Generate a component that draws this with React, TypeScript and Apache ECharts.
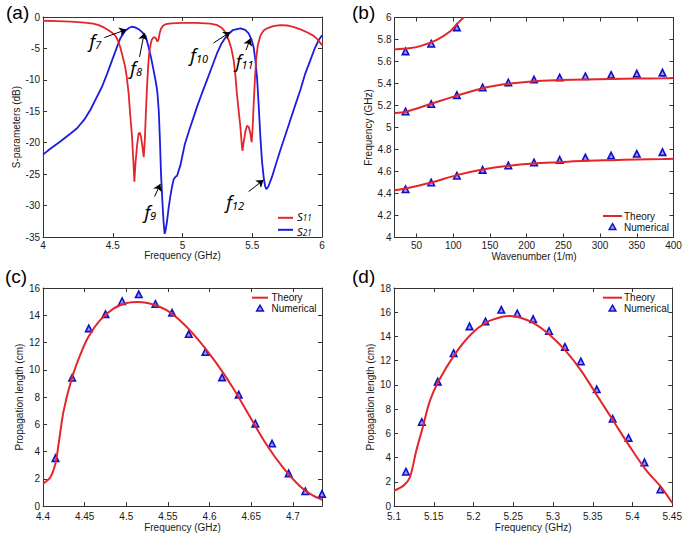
import React, { useEffect, useRef } from "react";
import * as echarts from "echarts";

const FONT = "'Liberation Sans', Arial, sans-serif";
const ITAL = "'Noto Sans', 'Open Sans', sans-serif";
const RED = "#e3262b";
const BLUE = "#1c1ce0";
const TRI_FILL = "#9a9aff";
const TRI_STROKE = "#1010c8";

// ---------- Panel (a): S-parameters ----------
const s11Freq = [4.0, 4.1, 4.2, 4.3, 4.36, 4.4, 4.44, 4.47, 4.5, 4.52, 4.54, 4.555, 4.57, 4.59, 4.6, 4.614, 4.625, 4.638, 4.648, 4.655, 4.662, 4.674, 4.685, 4.693, 4.702, 4.712, 4.722, 4.73, 4.738, 4.745, 4.752, 4.76, 4.77, 4.78, 4.79, 4.8, 4.81, 4.82, 4.828, 4.836, 4.845, 4.86, 4.88, 4.92, 5.0, 5.1, 5.2, 5.25, 5.28, 5.3, 5.33, 5.35, 5.367, 5.38, 5.39, 5.403, 5.415, 5.425, 5.43, 5.438, 5.45, 5.462, 5.475, 5.486, 5.496, 5.503, 5.51, 5.52, 5.529, 5.54, 5.558, 5.58, 5.606, 5.65, 5.7, 5.75, 5.8, 5.85, 5.9, 5.94, 5.97, 6.0];
const s11Db = [-0.6, -0.65, -0.75, -0.9, -1.05, -1.3, -1.7, -2.1, -2.6, -3.0, -3.9, -4.9, -6.2, -8.0, -9.5, -12.2, -15.5, -19.0, -23.0, -26.2, -23.5, -20.5, -18.6, -18.4, -19.0, -20.5, -22.3, -19.5, -15.0, -11.5, -8.5, -6.0, -4.5, -3.6, -3.3, -3.2, -3.4, -3.9, -3.6, -2.6, -1.9, -1.4, -1.15, -1.0, -0.95, -0.95, -1.05, -1.3, -1.7, -2.2, -3.6, -5.0, -6.9, -9.5, -12.2, -15.0, -17.5, -20.3, -21.3, -20.0, -18.3, -17.3, -17.5, -18.5, -19.9, -17.5, -14.0, -9.5, -6.5, -4.5, -3.0, -2.2, -1.8, -1.45, -1.3, -1.35, -1.6, -2.0, -2.5, -3.0, -3.6, -4.5];
const s21Freq = [4.0, 4.05, 4.124, 4.2, 4.244, 4.3, 4.339, 4.38, 4.423, 4.46, 4.495, 4.53, 4.554, 4.59, 4.615, 4.635, 4.66, 4.69, 4.71, 4.735, 4.757, 4.775, 4.793, 4.81, 4.82, 4.83, 4.838, 4.846, 4.855, 4.864, 4.872, 4.88, 4.889, 4.9, 4.913, 4.925, 4.937, 4.95, 4.961, 4.97, 4.985, 5.0, 5.016, 5.05, 5.104, 5.14, 5.176, 5.21, 5.247, 5.28, 5.319, 5.36, 5.415, 5.45, 5.474, 5.495, 5.51, 5.522, 5.534, 5.546, 5.558, 5.57, 5.582, 5.592, 5.601, 5.615, 5.642, 5.67, 5.701, 5.74, 5.773, 5.81, 5.845, 5.88, 5.916, 5.95, 5.976, 6.0];
const s21Db = [-21.9, -21.0, -19.8, -18.5, -17.7, -16.2, -14.8, -13.0, -11.1, -9.0, -6.9, -4.8, -3.4, -2.2, -1.75, -1.55, -1.65, -2.0, -2.4, -3.0, -4.8, -6.5, -8.5, -10.5, -12.0, -15.0, -19.5, -25.0, -29.0, -32.5, -34.5, -33.8, -32.5, -30.5, -28.5, -27.0, -25.8, -25.4, -25.3, -24.6, -23.6, -22.0, -20.3, -17.9, -14.3, -12.1, -10.0, -8.0, -5.8, -4.2, -2.9, -2.1, -1.8, -2.05, -2.6, -3.6, -4.8, -6.8, -9.5, -14.0, -19.0, -23.0, -25.5, -26.9, -27.4, -27.0, -25.4, -23.4, -21.2, -18.6, -16.4, -13.9, -11.6, -9.0, -6.9, -4.9, -3.7, -2.9];

// annotations for panel (a) (data coordinates)
const annSub = ["7", "8", "9", "10", "11", "12"];
const annText = [[4.375, -3.81], [4.667, -8.1], [4.769, -30.95], [5.12, -6.08], [5.445, -7.03], [5.378, -29.37]];
const annTail = [[4.44, -3.27], [4.692, -6.35], [4.8, -28.57], [5.223, -4.13], [5.455, -5.29], [5.474, -27.78]];
const annHead = [[4.597, -2.0], [4.726, -2.54], [4.841, -26.56], [5.343, -2.38], [5.486, -3.43], [5.581, -25.92]];

// ---------- Panel (b): dispersion ----------
const theoryK = [20, 35, 70, 105, 140, 175, 210, 245, 280, 315, 350, 385, 400];
const band1Theory = [4.43, 4.445, 4.5, 4.567, 4.618, 4.652, 4.673, 4.685, 4.697, 4.703, 4.709, 4.713, 4.715];
const band2Theory = [5.131, 5.143, 5.216, 5.29, 5.357, 5.397, 5.421, 5.431, 5.437, 5.441, 5.445, 5.448, 5.45];
const band3TheoryK = [20, 40, 55, 77, 95, 108, 114];
const band3Theory = [5.71, 5.72, 5.74, 5.795, 5.87, 5.96, 6.0];
const numK = [35, 70, 105, 140, 175, 210, 245, 280, 315, 350, 385];
const band1Num = [4.439, 4.5, 4.561, 4.615, 4.655, 4.682, 4.706, 4.727, 4.745, 4.761, 4.776];
const band2Num = [5.146, 5.213, 5.294, 5.364, 5.409, 5.436, 5.454, 5.466, 5.478, 5.49, 5.499];
const band3NumK = [35, 70, 105];
const band3Num = [5.692, 5.762, 5.91];

// ---------- Panel (c): propagation length, lower band ----------
const cTheoryFreq = [4.4, 4.4088, 4.4148, 4.4187, 4.4247, 4.4347, 4.4447, 4.4546, 4.4686, 4.4846, 4.5005, 4.5145, 4.5284, 4.5484, 4.5683, 4.5883, 4.6082, 4.6282, 4.6481, 4.6681, 4.688, 4.7079, 4.7239, 4.735];
const cTheoryLen = [1.63, 2.11, 3.08, 4.54, 6.97, 9.4, 11.1, 12.43, 13.64, 14.49, 14.9, 14.98, 14.86, 14.37, 13.4, 12.07, 10.49, 8.67, 6.6, 4.54, 2.84, 1.5, 0.78, 0.46];
const cNumFreq = [4.415, 4.435, 4.455, 4.475, 4.495, 4.515, 4.535, 4.555, 4.575, 4.595, 4.615, 4.635, 4.655, 4.675, 4.695, 4.715, 4.735];
const cNumLen = [3.52, 9.42, 13.04, 14.08, 15.03, 15.54, 14.83, 14.18, 12.62, 11.31, 9.44, 8.18, 6.05, 4.59, 2.4, 1.09, 0.9];

// ---------- Panel (d): propagation length, upper band ----------
const dTheoryFreq = [5.1, 5.112, 5.12, 5.128, 5.136, 5.145, 5.156, 5.176, 5.196, 5.216, 5.236, 5.245, 5.256, 5.276, 5.296, 5.316, 5.336, 5.356, 5.376, 5.396, 5.416, 5.436, 5.45];
const dTheoryLen = [1.28, 1.69, 2.38, 4.56, 6.47, 8.66, 10.3, 12.48, 14.12, 15.16, 15.62, 15.68, 15.6, 15.08, 14.12, 12.81, 11.12, 9.07, 7.02, 4.97, 3.06, 1.56, 0.25];
const dNumFreq = [5.115, 5.135, 5.155, 5.175, 5.195, 5.215, 5.235, 5.255, 5.275, 5.295, 5.315, 5.335, 5.355, 5.375, 5.395, 5.415, 5.435];
const dNumLen = [2.84, 6.94, 10.27, 12.62, 14.83, 15.24, 16.2, 15.9, 15.43, 14.45, 13.14, 11.94, 9.64, 7.21, 5.63, 3.61, 1.37];

// legend labels
const legendNames = ["Theory", "Numerical"];

const zip = (xs: number[], ys: number[]) => xs.map((x, i) => [x, ys[i]]);

const lineCol = "#333";
const baseAxis = (grid: number, min: number, max: number, extra: any) => ({
  type: "value",
  gridIndex: grid,
  min,
  max,
  splitLine: { show: false },
  axisLine: { show: true, onZero: false, lineStyle: { color: lineCol, width: 1 } },
  axisTick: { show: true, inside: true, length: 4, lineStyle: { color: lineCol, width: 1 } },
  ...extra,
});

const labelStyle = { color: "#1a1a1a", fontSize: 10, lineHeight: 10, fontFamily: FONT };
const nameStyle = { color: "#1a1a1a", fontSize: 10, fontFamily: FONT };

function xPair(grid: number, min: number, max: number, scale: any, name: string, nameGap: number, lbl: any = {}) {
  return [
    baseAxis(grid, min, max, {
      ...scale,
      position: "bottom",
      name,
      nameLocation: "middle",
      nameGap,
      nameTextStyle: nameStyle,
      axisLabel: { ...labelStyle, margin: 3, ...lbl },
    }),
    baseAxis(grid, min, max, { ...scale, position: "top", axisLabel: { show: false } }),
  ];
}
function yPair(grid: number, min: number, max: number, scale: any, name: string, nameGap: number) {
  return [
    baseAxis(grid, min, max, {
      ...scale,
      position: "left",
      name,
      nameLocation: "middle",
      nameGap,
      nameRotate: 90,
      nameTextStyle: nameStyle,
      axisLabel: { ...labelStyle, margin: 3 },
    }),
    baseAxis(grid, min, max, { ...scale, position: "right", axisLabel: { show: false } }),
  ];
}

const theoryLine = (g: number, data: number[][]) => ({
  type: "line",
  name: "Theory",
  xAxisIndex: 2 * g,
  yAxisIndex: 2 * g,
  data,
  symbol: "none",
  smooth: 0.3,
  lineStyle: { color: RED, width: 2 },
  itemStyle: { color: RED },
  clip: true,
});
const numScatter = (g: number, data: number[][]) => ({
  type: "scatter",
  name: "Numerical",
  xAxisIndex: 2 * g,
  yAxisIndex: 2 * g,
  data,
  symbol: "triangle",
  symbolSize: 6.5,
  symbolKeepAspect: true,
  itemStyle: { color: TRI_FILL, borderColor: TRI_STROKE, borderWidth: 1.6, opacity: 1 },
});

// legend drawn as graphic elements: line sample at (x0..x1, y1), triangle at (xt, y2), text at xText
function tnLegendGraphic(x0: number, x1: number, y1: number, y2: number, xText: number) {
  const xt = (x0 + x1) / 2;
  return [
    { type: "line", shape: { x1: x0, y1, x2: x1, y2: y1 }, style: { stroke: RED, lineWidth: 2 } },
    {
      type: "polygon",
      shape: { points: [[xt, y2 - 3.3], [xt + 3.3, y2 + 2.4], [xt - 3.3, y2 + 2.4]] },
      style: { fill: TRI_FILL, stroke: TRI_STROKE, lineWidth: 1.5 },
    },
    { type: "text", x: xText, y: y1, style: { text: legendNames[0], font: `10px ${FONT}`, fill: "#111", verticalAlign: "middle" } },
    { type: "text", x: xText, y: y2, style: { text: legendNames[1], font: `10px ${FONT}`, fill: "#111", verticalAlign: "middle" } },
  ];
}

export default function App() {
  const ref = useRef<HTMLDivElement>(null);
  useEffect(() => {
    document.body.style.margin = "0";
    if (!ref.current) return;
    const chart = echarts.init(ref.current, undefined, { renderer: "svg" });

    const fRich = {
      f: { fontSize: 18, fontStyle: "italic", fontFamily: ITAL, color: "#000", lineHeight: 18 },
      n: { fontSize: 11, fontStyle: "italic", fontFamily: ITAL, color: "#000", lineHeight: 10, verticalAlign: "bottom" },
    };
    const sRich = {
      i: { fontSize: 11.5, fontStyle: "italic", fontFamily: ITAL, fill: "#111", lineHeight: 10 },
      s: { fontSize: 8, fontStyle: "italic", fontFamily: ITAL, fill: "#111", lineHeight: 5, verticalAlign: "bottom" },
    };

    const option: any = {
      animation: false,
      backgroundColor: "#fff",
      textStyle: { fontFamily: FONT },
      grid: [
        { left: 43, top: 17, width: 279, height: 220 },
        { left: 394.5, top: 17.5, width: 279, height: 220 },
        { left: 43, top: 288, width: 279, height: 219 },
        { left: 394, top: 288, width: 279, height: 219 },
      ],
      xAxis: [
        ...xPair(0, 4, 6, { interval: 0.5 }, "Frequency (GHz)", 13),
        ...xPair(1, 20, 400, { splitNumber: 8 }, "Wavenumber (1/m)", 13, { showMinLabel: false }),
        ...xPair(2, 4.4, 4.735, { interval: 0.05 }, "Frequency (GHz)", 12, { showMaxLabel: false, margin: 5 }),
        ...xPair(3, 5.1, 5.45, { interval: 0.05 }, "Frequency (GHz)", 12, { margin: 5 }),
      ],
      yAxis: [
        ...yPair(0, -35, 0, { interval: 5 }, "S-parameters (dB)", 21),
        ...yPair(1, 4, 6, { interval: 0.2 }, "Frequency (GHz)", 17.5),
        ...yPair(2, 0, 16, { interval: 2 }, "Propagation length (cm)", 15),
        ...yPair(3, 0, 18, { interval: 2 }, "Propagation length (cm)", 16.5),
      ],
      graphic: [
        { type: "text", left: 6, top: 3, style: { text: "(a)", font: `19px ${FONT}`, fill: "#000" } },
        { type: "text", left: 352, top: 3, style: { text: "(b)", font: `19px ${FONT}`, fill: "#000" } },
        { type: "text", left: 5, top: 267, style: { text: "(c)", font: `19px ${FONT}`, fill: "#000" } },
        { type: "text", left: 352, top: 267, style: { text: "(d)", font: `19px ${FONT}`, fill: "#000" } },
        // legend (a)
        { type: "line", shape: { x1: 278, y1: 217.8, x2: 293, y2: 217.8 }, style: { stroke: RED, lineWidth: 2 } },
        { type: "line", shape: { x1: 278, y1: 229.8, x2: 293, y2: 229.8 }, style: { stroke: BLUE, lineWidth: 2 } },
        { type: "text", x: 297, y: 216, style: { text: "{i|S}{s|11}", rich: sRich, verticalAlign: "middle" } },
        { type: "text", x: 297, y: 231, style: { text: "{i|S}{s|21}", rich: sRich, verticalAlign: "middle" } },
        // legends (b), (c), (d)
        ...tnLegendGraphic(603, 622, 216, 227, 624),
        ...tnLegendGraphic(252, 268, 297.7, 308.5, 271.5),
        ...tnLegendGraphic(603, 622, 297.7, 308.5, 624),
      ],
      series: [
        {
          type: "line",
          name: "S11",
          xAxisIndex: 0,
          yAxisIndex: 0,
          data: zip(s11Freq, s11Db),
          symbol: "none",
          lineStyle: { color: RED, width: 1.8 },
          itemStyle: { color: RED },
          z: 3,
          markLine: {
            silent: true,
            symbol: ["none", "arrow"],
            symbolSize: 7,
            lineStyle: { color: "#000", width: 1, type: "solid" },
            label: { show: false },
            emphasis: { disabled: true },
            data: annTail.map((t, i) => [{ coord: t }, { coord: annHead[i] }]),
          },
          markPoint: {
            silent: true,
            symbol: "rect",
            symbolSize: 1,
            itemStyle: { color: "rgba(0,0,0,0)" },
            label: {
              show: true,
              position: "inside",
              formatter: (p: any) => `{f|f}{n|${p.name}}`,
              rich: fRich,
            },
            data: annText.map((c, i) => ({ name: annSub[i], coord: c })),
          },
        },
        {
          type: "line",
          name: "S21",
          xAxisIndex: 0,
          yAxisIndex: 0,
          data: zip(s21Freq, s21Db),
          symbol: "none",
          lineStyle: { color: BLUE, width: 1.8 },
          itemStyle: { color: BLUE },
          z: 2,
        },
        theoryLine(1, zip(theoryK, band1Theory)),
        theoryLine(1, zip(theoryK, band2Theory)),
        theoryLine(1, zip(band3TheoryK, band3Theory)),
        numScatter(1, zip(numK, band1Num)),
        numScatter(1, zip(numK, band2Num)),
        numScatter(1, zip(band3NumK, band3Num)),
        theoryLine(2, zip(cTheoryFreq, cTheoryLen)),
        numScatter(2, zip(cNumFreq, cNumLen)),
        theoryLine(3, zip(dTheoryFreq, dTheoryLen)),
        numScatter(3, zip(dNumFreq, dNumLen)),
      ],
    };
    chart.setOption(option);
    return () => chart.dispose();
  }, []);
  return <div ref={ref} style={{ width: 685, height: 533 }} />;
}
